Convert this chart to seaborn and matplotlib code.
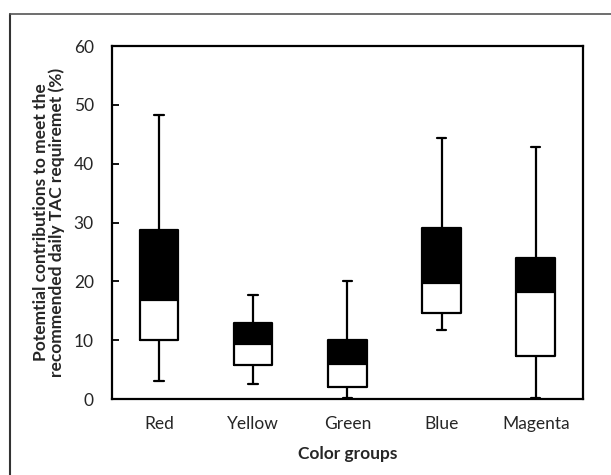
import numpy as np
import pandas as pd
import matplotlib
matplotlib.use("Agg")
import matplotlib.pyplot as plt
from matplotlib.lines import Line2D
import seaborn as sns

categories = ["Red", "Yellow", "Green", "Blue", "Magenta"]
mins = [3.0, 2.6, 0.2, 11.7, 0.2]
q1s = [10.1, 5.7, 2.1, 14.7, 7.3]
medians = [16.8, 9.4, 5.9, 19.7, 18.2]
q3s = [28.7, 12.9, 10.0, 29.1, 24.0]
maxs = [48.3, 17.7, 20.1, 44.4, 42.8]
yticks = [0, 10, 20, 30, 40, 50, 60]

sns.set_style("white")
plt.rcParams["font.family"] = ["Lato", "DejaVu Sans"]

rows = []
for c, a, b, m, d, e in zip(categories, mins, q1s, medians, q3s, maxs):
    for v in (a, b, m, d, e):
        rows.append({"group": c, "value": v})
df = pd.DataFrame(rows)
stats = pd.DataFrame({"group": categories, "q3": q3s, "median": medians})

fig = plt.figure(figsize=(6.11, 4.75), dpi=100)
ax = fig.add_axes([0.183, 0.16, 0.771, 0.743])

bw = 0.41
sns.barplot(data=stats, x="group", y="q3", order=categories, color="black",
            width=bw, linewidth=0, ax=ax, zorder=1, saturation=1)
sns.barplot(data=stats, x="group", y="median", order=categories, color="white",
            width=bw, linewidth=0, ax=ax, zorder=2, saturation=1)
sns.boxplot(data=df, x="group", y="value", order=categories, whis=np.inf,
            fill=False, color="black", linecolor="black", linewidth=1.6,
            width=bw, ax=ax, zorder=3, capwidths=0.1)

ax.set_ylim(0, 60)
ax.set_xlim(-0.5, 4.5)
ax.set_yticks(yticks)
ax.set_yticklabels([str(t) for t in yticks], fontsize=12.5)
ax.set_xticks(range(len(categories)))
ax.set_xticklabels(categories, fontsize=12.5)
ax.set_xticks([0.5, 1.5, 2.5, 3.5], minor=True)
ax.tick_params(axis="x", which="major", length=0, pad=12)
ax.tick_params(axis="x", which="minor", direction="in", length=5, width=1.3, color="black")
ax.tick_params(axis="y", which="major", direction="in", length=5, width=1.3, color="black", pad=13, left=True)
for s in ax.spines.values():
    s.set_visible(True)
    s.set_color("black")
    s.set_linewidth(1.6)

ax.set_xlabel("Color groups", fontsize=12.5, fontweight="bold", labelpad=10)
ax.set_ylabel("Potemtial contributions to meet the\nrecommended daily TAC requiremet (%)",
              fontsize=12.5, fontweight="bold", labelpad=6, linespacing=1.0)

fig.add_artist(Line2D([10/611, 10/611], [0, 1 - 14/475], transform=fig.transFigure,
                      color="#333333", linewidth=1.5))
fig.add_artist(Line2D([10/611, 1], [1 - 14/475, 1 - 14/475], transform=fig.transFigure,
                      color="#555555", linewidth=1.2))

fig.savefig("out.png", dpi=100)
